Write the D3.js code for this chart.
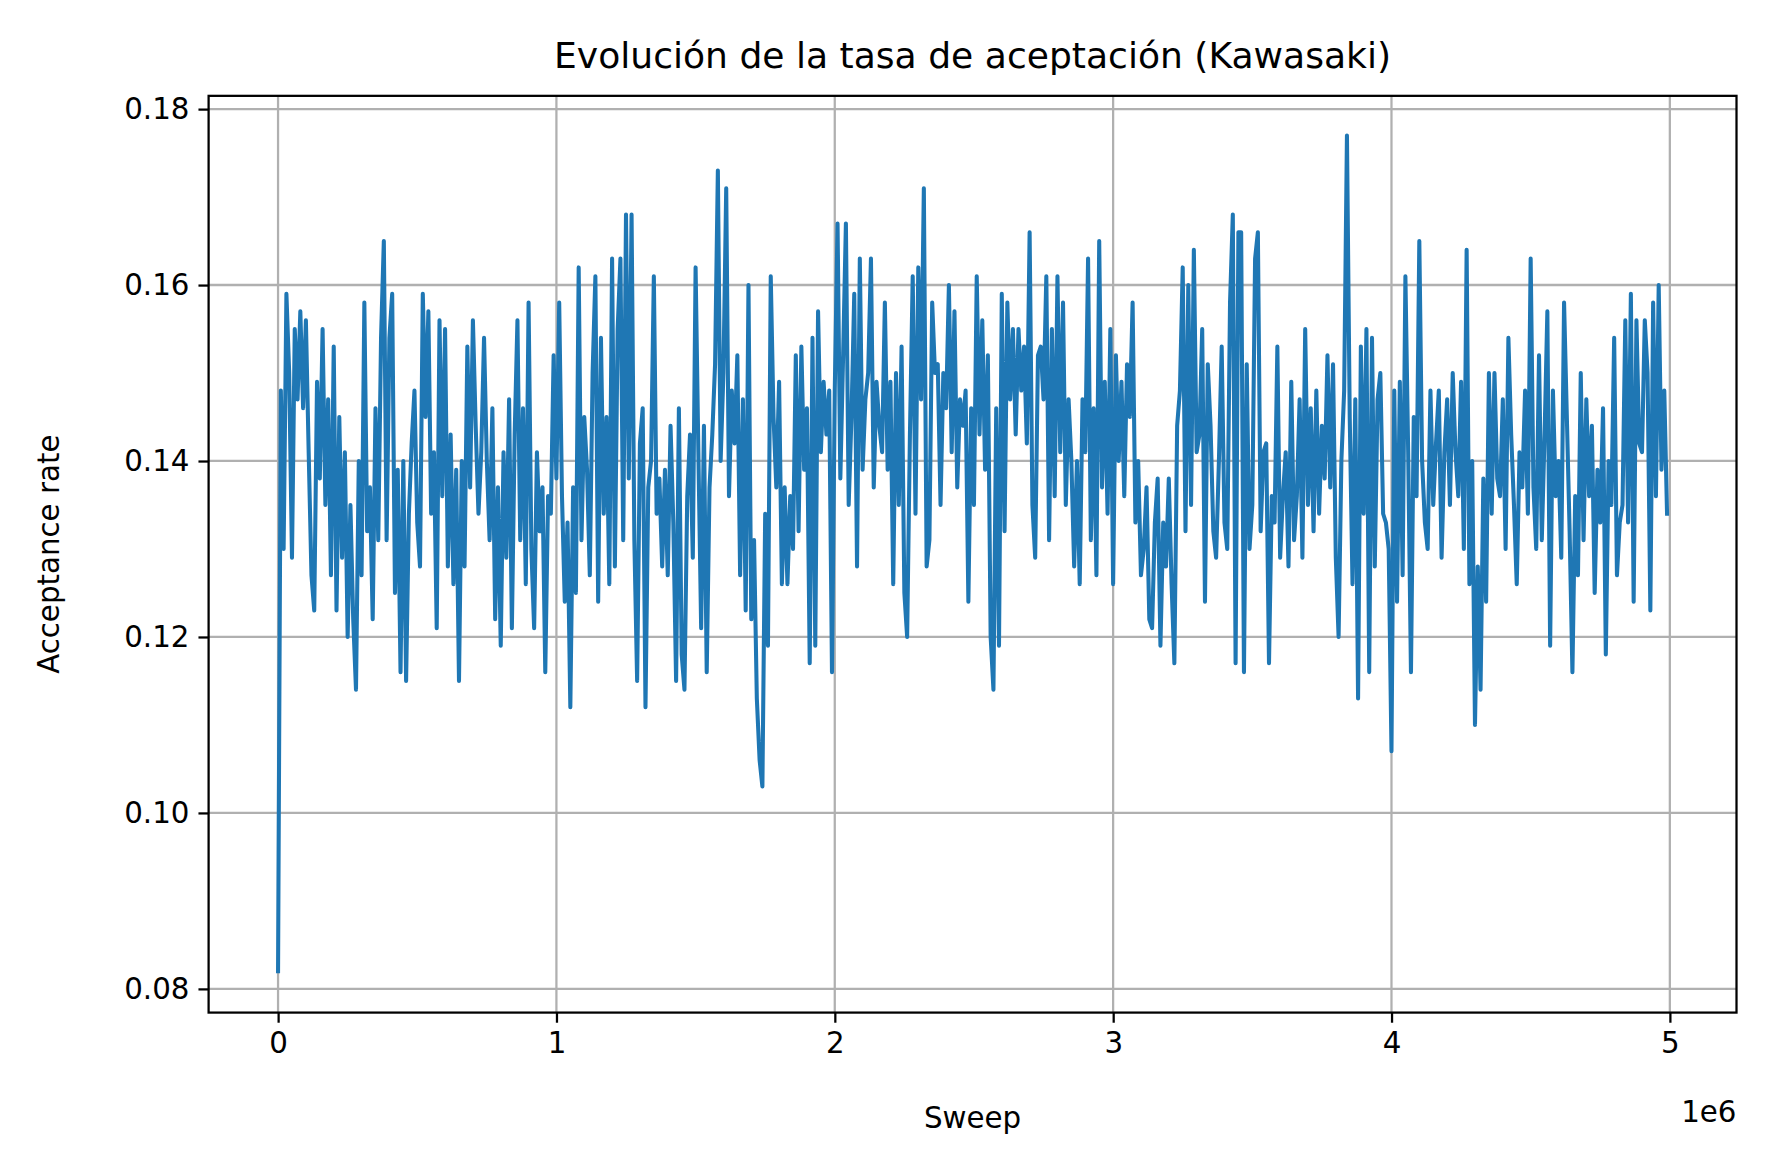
<!DOCTYPE html>
<html><head><meta charset="utf-8">
<script src="https://cdn.jsdelivr.net/npm/d3@7"></script>
<style>body{margin:0;background:#fff}text{font-family:"DejaVu Sans",sans-serif;fill:#000}</style>
</head><body><svg id="c" width="1767" height="1167"></svg>
<script>
const step = 10000;
const rates = [
.082,.148,.130,.159,.150,.129,.155,.147,.157,.146,
.156,.141,.127,.123,.149,.138,.155,.135,.147,.127,
.153,.123,.145,.129,.141,.120,.135,.122,.114,.140,
.127,.158,.132,.137,.122,.146,.131,.154,.165,.131,
.154,.159,.125,.139,.116,.140,.115,.134,.142,.148,
.133,.128,.159,.145,.157,.134,.141,.121,.156,.136,
.155,.128,.143,.126,.139,.115,.140,.128,.153,.137,
.156,.144,.134,.141,.154,.140,.131,.146,.122,.137,
.119,.141,.129,.147,.121,.143,.156,.131,.146,.126,
.158,.130,.121,.141,.132,.137,.116,.136,.134,.152,
.138,.158,.136,.124,.133,.112,.137,.125,.162,.131,
.145,.139,.127,.150,.161,.124,.154,.134,.145,.126,
.163,.128,.155,.163,.131,.168,.138,.168,.131,.115,
.142,.146,.112,.137,.140,.161,.134,.138,.128,.139,
.127,.144,.133,.115,.146,.118,.114,.136,.143,.129,
.162,.141,.121,.144,.116,.137,.143,.151,.173,.140,
.150,.171,.136,.148,.142,.152,.127,.147,.123,.160,
.122,.131,.113,.106,.103,.134,.119,.161,.145,.137,
.149,.126,.137,.126,.136,.130,.152,.132,.153,.139,
.146,.117,.154,.119,.157,.141,.149,.143,.148,.116,
.148,.167,.138,.152,.167,.135,.145,.159,.128,.163,
.139,.147,.150,.163,.137,.149,.144,.141,.158,.139,
.149,.126,.150,.135,.153,.125,.120,.143,.161,.134,
.162,.147,.171,.128,.131,.158,.150,.151,.135,.150,
.146,.160,.141,.157,.137,.147,.144,.148,.124,.146,
.135,.161,.143,.156,.139,.152,.120,.114,.146,.119,
.159,.132,.158,.147,.155,.143,.155,.148,.153,.142,
.166,.135,.129,.152,.153,.147,.161,.131,.155,.136,
.161,.141,.158,.135,.147,.140,.128,.140,.126,.147,
.141,.163,.131,.146,.127,.165,.137,.149,.134,.155,
.126,.152,.140,.149,.136,.151,.145,.158,.133,.140,
.127,.130,.137,.122,.121,.133,.138,.119,.133,.128,
.138,.126,.117,.144,.148,.162,.132,.160,.135,.164,
.141,.143,.155,.124,.151,.144,.132,.129,.140,.153,
.133,.130,.158,.168,.117,.166,.166,.116,.151,.130,
.135,.163,.166,.132,.141,.142,.117,.136,.133,.153,
.129,.136,.141,.128,.149,.131,.136,.147,.129,.155,
.135,.146,.132,.148,.134,.144,.138,.152,.137,.151,
.129,.120,.140,.148,.177,.145,.126,.147,.113,.153,
.134,.155,.116,.154,.128,.147,.150,.134,.133,.130,
.107,.148,.124,.149,.127,.161,.141,.116,.145,.136,
.165,.140,.133,.130,.148,.135,.142,.148,.129,.141,
.147,.135,.150,.141,.136,.149,.130,.164,.126,.140,
.110,.128,.114,.138,.124,.150,.134,.150,.138,.136,
.147,.130,.154,.143,.135,.126,.141,.137,.148,.134,
.163,.137,.130,.152,.131,.143,.157,.119,.148,.136,
.140,.129,.158,.145,.132,.116,.136,.127,.150,.131,
.147,.136,.144,.125,.139,.133,.146,.118,.140,.135,
.154,.127,.133,.135,.156,.133,.159,.124,.156,.142,
.141,.156,.150,.123,.158,.136,.160,.139,.148,.134
];
const xTicks = [0,1e6,2e6,3e6,4e6,5e6];
const xTickLabels = ["0","1","2","3","4","5"];
const yTicks = [0.08,0.10,0.12,0.14,0.16,0.18];

const L=185,R=1540,T=85,B=898;
const svg=d3.select("#c").append("g").attr("transform","scale(1.1276)");
const x=d3.scaleLinear().domain([-249500,5239500]).range([L,R]);
const y=d3.scaleLinear().domain([0.0773,0.1815]).range([B,T]);
const g=svg.append("g");
g.selectAll(".gx").data(xTicks).enter().append("line").attr("x1",d=>x(d)).attr("x2",d=>x(d)).attr("y1",T).attr("y2",B).attr("stroke","#b0b0b0").attr("stroke-width",2);
g.selectAll(".gy").data(yTicks).enter().append("line").attr("y1",d=>y(d)).attr("y2",d=>y(d)).attr("x1",L).attr("x2",R).attr("stroke","#b0b0b0").attr("stroke-width",2);
const line=d3.line().x((d,i)=>x(i*step)).y(d=>y(d));
svg.append("path").datum(rates).attr("d",line).attr("fill","none").attr("stroke","#1f77b4").attr("stroke-width",3.6).attr("stroke-linejoin","round").attr("stroke-linecap","square");
svg.append("rect").attr("x",L).attr("y",T).attr("width",R-L).attr("height",B-T).attr("fill","none").attr("stroke","#000").attr("stroke-width",2);
const xa=svg.append("g").attr("transform",`translate(0,${B})`).call(d3.axisBottom(x).tickValues(xTicks).tickFormat((d,i)=>xTickLabels[i]).tickSize(9).tickPadding(8));
const ya=svg.append("g").attr("transform",`translate(${L},0)`).call(d3.axisLeft(y).tickValues(yTicks).tickFormat(d3.format(".2f")).tickSize(9).tickPadding(8));
[xa,ya].forEach(a=>{a.select(".domain").remove();a.selectAll("line").attr("stroke","#000").attr("stroke-width",2);a.selectAll("text").style("font-size","26px").style("font-family","DejaVu Sans");});
svg.append("text").attr("x",(L+R)/2).attr("y",60).attr("text-anchor","middle").style("font-size","32px").text("Evolución de la tasa de aceptación (Kawasaki)");
svg.append("text").attr("x",(L+R)/2).attr("y",1000).attr("text-anchor","middle").style("font-size","26px").text("Sweep");
svg.append("text").attr("x",R).attr("y",995).attr("text-anchor","end").style("font-size","26px").text("1e6");
svg.append("text").attr("transform",`translate(52,${(T+B)/2}) rotate(-90)`).attr("text-anchor","middle").style("font-size","26px").text("Acceptance rate");
</script></body></html>
